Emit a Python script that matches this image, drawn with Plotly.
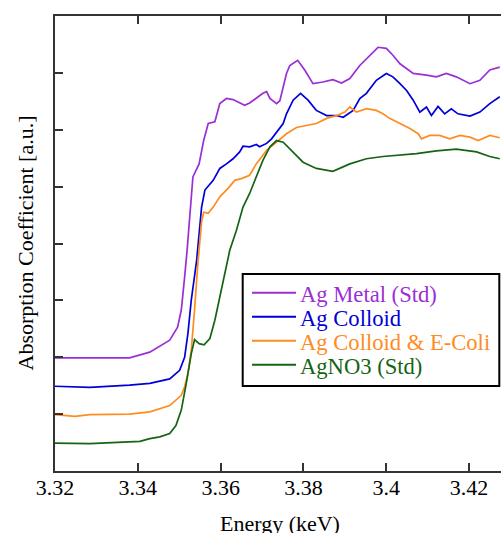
import plotly.graph_objects as go

# ---------------- data ----------------
series_names = ["Ag Metal (Std)", "Ag Colloid", "Ag Colloid & E-Coli", "AgNO3 (Std)"]
series_colors = ["#9b2fd4", "#0000d8", "#ff8c1e", "#146414"]

metal_E = [3.3200, 3.3380, 3.3429, 3.3477, 3.3496, 3.3505, 3.3513, 3.3519,
           3.3533, 3.3548, 3.3559, 3.3570, 3.3586, 3.3598, 3.3614, 3.3630, 3.3658, 3.3670,
           3.3702, 3.3711, 3.3719, 3.3735, 3.3743, 3.3759, 3.3767, 3.3786, 3.3803,
           3.3823, 3.3847, 3.3871, 3.3892, 3.3912, 3.3936, 3.3960, 3.3980, 3.4000,
           3.4016, 3.4033, 3.4049, 3.4065, 3.4097, 3.4121, 3.4145, 3.4169, 3.4202,
           3.4226, 3.4250, 3.4274]
metal_A = [1.99, 1.99, 2.09, 2.30, 2.53, 2.83, 3.41, 3.88,
           5.17, 5.40, 5.81, 6.11, 6.14, 6.46, 6.55, 6.53, 6.43, 6.47,
           6.64, 6.67, 6.55, 6.46, 6.51, 6.99, 7.13, 7.22, 7.05,
           6.81, 6.84, 6.88, 6.82, 6.90, 7.13, 7.31, 7.45, 7.43,
           7.31, 7.16, 7.08, 6.99, 6.96, 6.93, 6.99, 6.93, 6.81,
           6.87, 7.05, 7.10]

colloid_E = [3.3200, 3.3284, 3.3380, 3.3429, 3.3477, 3.3501, 3.3513, 3.3521,
             3.3529, 3.3542, 3.3554, 3.3562, 3.3582, 3.3598, 3.3614, 3.3630, 3.3646,
             3.3654, 3.3670, 3.3686, 3.3694, 3.3711, 3.3723, 3.3735, 3.3751, 3.3759,
             3.3775, 3.3793, 3.3811, 3.3831, 3.3856, 3.3880, 3.3896, 3.3920, 3.3936,
             3.3952, 3.3976, 3.4000, 3.4016, 3.4033, 3.4049, 3.4065, 3.4081, 3.4097,
             3.4109, 3.4125, 3.4141, 3.4157, 3.4173, 3.4202, 3.4226, 3.4250, 3.4274]
colloid_A = [1.49, 1.47, 1.51, 1.54, 1.62, 1.77, 2.00, 2.42,
             3.00, 3.70, 4.64, 4.94, 5.11, 5.32, 5.40, 5.49, 5.61,
             5.71, 5.70, 5.74, 5.70, 5.76, 5.84, 5.96, 6.11, 6.28,
             6.52, 6.64, 6.52, 6.34, 6.25, 6.25, 6.22, 6.34, 6.55,
             6.64, 6.87, 6.99, 6.93, 6.81, 6.69, 6.52, 6.31, 6.40,
             6.25, 6.41, 6.28, 6.37, 6.28, 6.24, 6.31, 6.46, 6.58]

ecoli_E = [3.3200, 3.3248, 3.3284, 3.3380, 3.3429, 3.3477, 3.3505, 3.3513,
           3.3521, 3.3529, 3.3537, 3.3545, 3.3554, 3.3559, 3.3570, 3.3582, 3.3598,
           3.3618, 3.3634, 3.3650, 3.3670, 3.3686, 3.3711, 3.3735, 3.3759, 3.3783,
           3.3807, 3.3831, 3.3856, 3.3880, 3.3900, 3.3912, 3.3928, 3.3952, 3.3976,
           3.3992, 3.4008, 3.4033, 3.4057, 3.4077, 3.4085, 3.4105, 3.4129, 3.4153,
           3.4178, 3.4202, 3.4222, 3.4250, 3.4274]
ecoli_A = [0.99, 0.96, 0.99, 1.00, 1.04, 1.15, 1.33, 1.48,
           1.71, 2.12, 2.83, 3.65, 4.38, 4.55, 4.53, 4.64, 4.82,
           4.97, 5.11, 5.14, 5.20, 5.40, 5.64, 5.78, 5.93, 6.04,
           6.08, 6.11, 6.20, 6.25, 6.31, 6.40, 6.31, 6.37, 6.34,
           6.28, 6.20, 6.11, 6.02, 5.93, 5.84, 5.90, 5.90, 5.84,
           5.90, 5.87, 5.81, 5.90, 5.86]

agno3_E = [3.3200, 3.3284, 3.3405, 3.3429, 3.3453, 3.3477, 3.3492, 3.3505,
           3.3517, 3.3529, 3.3537, 3.3548, 3.3560, 3.3574, 3.3586, 3.3598, 3.3610,
           3.3622, 3.3638, 3.3654, 3.3670, 3.3686, 3.3702, 3.3719, 3.3735, 3.3751,
           3.3775, 3.3799, 3.3831, 3.3871, 3.3912, 3.3952, 3.3992, 3.4033, 3.4073,
           3.4121, 3.4169, 3.4218, 3.4250, 3.4274]
agno3_A = [0.49, 0.48, 0.52, 0.57, 0.60, 0.66, 0.80, 1.07,
           1.54, 2.06, 2.31, 2.24, 2.22, 2.33, 2.65, 3.06, 3.47,
           3.88, 4.23, 4.64, 4.88, 5.17, 5.46, 5.70, 5.81, 5.78,
           5.61, 5.43, 5.32, 5.27, 5.40, 5.49, 5.53, 5.55, 5.58,
           5.63, 5.66, 5.61, 5.53, 5.49]

x_tickvals = [3.32, 3.34, 3.36, 3.38, 3.40, 3.42]
x_ticktext = ["3.32", "3.34", "3.36", "3.38", "3.4", "3.42"]
y_tickvals = [0, 1, 2, 3, 4, 5, 6, 7, 8]

x_title = "Energy (keV)"
y_title = "Absorption Coefficient [a.u.]"

# ---------------- figure ----------------
FONT = "Liberation Serif"
W, H = 501, 533
ML, MR, MT, MB = 55, 0, 16, 62

xs = [metal_E, colloid_E, ecoli_E, agno3_E]
ys = [metal_A, colloid_A, ecoli_A, agno3_A]

fig = go.Figure()
for name, col, x, y in zip(series_names, series_colors, xs, ys):
    fig.add_trace(go.Scatter(x=x, y=y, mode="lines", name=name,
                             line=dict(color=col, width=1.7), showlegend=False))

axis_col = "#333333"
fig.update_layout(
    width=W, height=H,
    margin=dict(l=ML, r=MR, t=MT, b=MB),
    paper_bgcolor="white", plot_bgcolor="white",
    font=dict(family=FONT, size=22, color="black"),
    xaxis=dict(range=[3.32, 3.4277], tickvals=x_tickvals, ticktext=x_ticktext,
               ticks="inside", ticklen=8, tickwidth=1.5, tickcolor=axis_col,
               showline=True, linecolor=axis_col, linewidth=1.5, mirror="ticks",
               showgrid=False, zeroline=False, ticklabelstandoff=-4,
               tickfont=dict(family=FONT, size=22, color="black")),
    yaxis=dict(range=[0, 8], tickvals=y_tickvals, showticklabels=False,
               ticks="inside", ticklen=8, tickwidth=1.5, tickcolor=axis_col,
               showline=True, linecolor=axis_col, linewidth=1.5, mirror=False,
               showgrid=False, zeroline=False),
)

plot_w = W - ML - MR
plot_h = H - MT - MB

def px_to_paper_x(px):
    return (px - ML) / plot_w

def px_to_paper_y(py):
    return (H - MB - py) / plot_h

# axis titles
fig.add_annotation(text=y_title, textangle=-90, xref="paper", yref="paper",
                   x=px_to_paper_x(25), y=0.5, xanchor="center", yanchor="middle",
                   showarrow=False, font=dict(family=FONT, size=22, color="black"))
fig.add_annotation(text=x_title, xref="paper", yref="paper",
                   x=px_to_paper_x(280), y=px_to_paper_y(523.5), xanchor="center",
                   yanchor="middle", showarrow=False,
                   font=dict(family=FONT, size=22, color="black"))

# legend (drawn manually to match compact spacing)
box = dict(x0=242.7, x1=499.3, y0=274, y1=386)
fig.add_shape(type="rect", xref="paper", yref="paper",
              x0=px_to_paper_x(box["x0"]), x1=px_to_paper_x(box["x1"]),
              y0=px_to_paper_y(box["y1"]), y1=px_to_paper_y(box["y0"]),
              line=dict(color="black", width=2), fillcolor="white", layer="above")
first_y, step = 292.7, 24.0
for i, (name, col) in enumerate(zip(series_names, series_colors)):
    yy = first_y + i * step
    fig.add_shape(type="line", xref="paper", yref="paper",
                  x0=px_to_paper_x(252), x1=px_to_paper_x(296),
                  y0=px_to_paper_y(yy), y1=px_to_paper_y(yy),
                  line=dict(color=col, width=2), layer="above")
    fig.add_annotation(text=name, xref="paper", yref="paper",
                       x=px_to_paper_x(298), y=px_to_paper_y(yy + 2),
                       xanchor="left", yanchor="middle", showarrow=False,
                       font=dict(family=FONT, size=22.6, color=col))

fig.write_html("out.html", config={"displayModeBar": False},
               post_script="document.body.style.margin='0';"
                           "document.body.style.overflow='hidden';")
